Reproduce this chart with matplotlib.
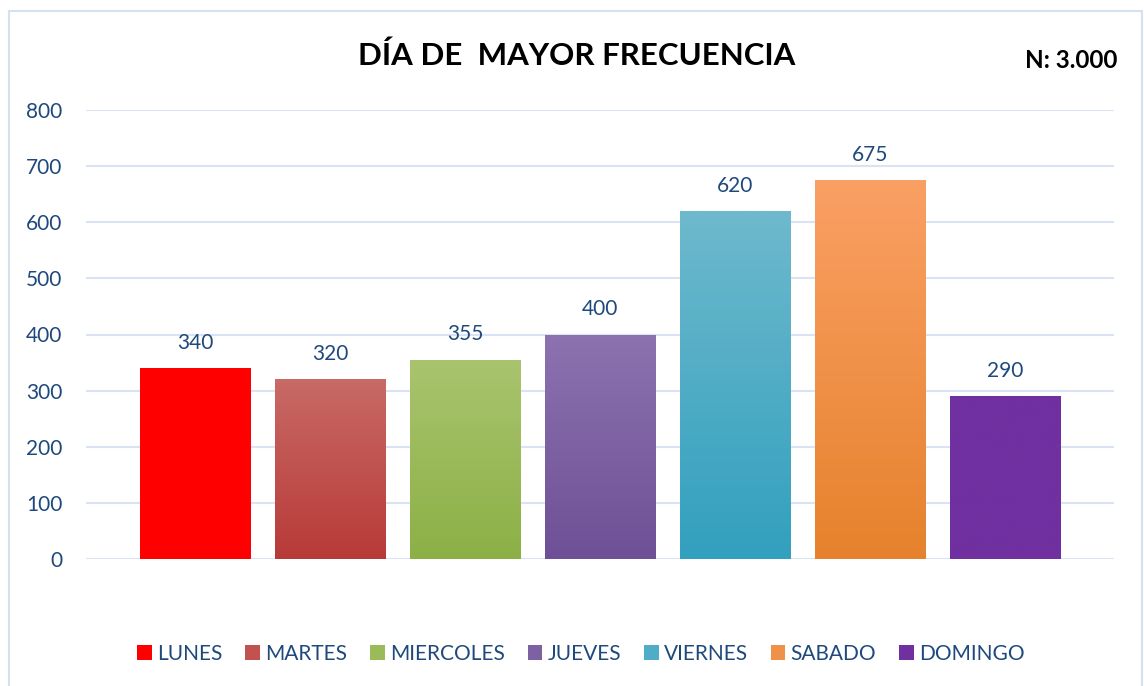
import matplotlib
matplotlib.use("Agg")
import matplotlib.pyplot as plt
import numpy as np
from matplotlib.patches import Rectangle, Patch
from matplotlib.colors import LinearSegmentedColormap

categories = ["LUNES", "MARTES", "MIERCOLES", "JUEVES", "VIERNES", "SABADO", "DOMINGO"]
values = [340, 320, 355, 400, 620, 675, 290]
top_colors = ["#FF0000", "#C86A66", "#A9C46E", "#8C73AF", "#6EB9CD", "#FAA064", "#7030A0"]
bottom_colors = ["#FF0000", "#B83A37", "#8CB046", "#6E5096", "#32A0BE", "#E6822D", "#7030A0"]
title = "DÍA DE  MAYOR FRECUENCIA"
n_label = "N: 3.000"
yticks = [0, 100, 200, 300, 400, 500, 600, 700, 800]

plt.rcParams['font.family'] = ['Lato', 'DejaVu Sans']
txt_color = "#1F497D"
grid_color = "#D9E3F3"

W, H = 1144, 686
fig = plt.figure(figsize=(W/100, H/100), dpi=100)
ax = fig.add_axes([86/W, 1-559/H, (1114-86)/W, (559-110)/H])

x = np.arange(len(categories))
width = 0.815
bars = ax.bar(x, values, width=width, color=top_colors, zorder=2)
for b, tc, bc in zip(bars, top_colors, bottom_colors):
    cmap = LinearSegmentedColormap.from_list("g", [bc, tc])
    x0, y0 = b.get_x(), b.get_y()
    w, h = b.get_width(), b.get_height()
    grad = np.linspace(0, 1, 256).reshape(-1, 1)
    im = ax.imshow(grad, cmap=cmap, origin="lower", aspect="auto",
                   extent=[x0, x0+w, y0, y0+h], zorder=3)
    im.set_clip_path(b)

for xi, v in zip(x, values):
    ax.annotate(f"{v}", (xi, v), xytext=(0, 11), textcoords="offset points",
                ha="center", va="bottom", fontsize=15, color=txt_color)

ax.set_xlim(-0.807, 6.807)
ax.set_ylim(0, 800)
ax.set_yticks(yticks)
ax.set_xticks([])
ax.yaxis.grid(True, color=grid_color, linewidth=1.5, zorder=0)
ax.set_axisbelow(True)
for s in ax.spines.values():
    s.set_visible(False)
ax.tick_params(axis="y", length=0, labelsize=15, labelcolor=txt_color, pad=17)

fig.text(577/W, 1-56/H, title, ha="center", va="center", fontsize=22.5,
         fontweight="bold", color="black")
fig.text(1117/W, 1-61/H, n_label, ha="right", va="center", fontsize=17.5,
         fontweight="bold", color="black")

handles = [Patch(facecolor=(np.array(matplotlib.colors.to_rgb(t)) + np.array(matplotlib.colors.to_rgb(b)))/2)
           for t, b in zip(top_colors, bottom_colors)]
leg = fig.legend(handles, categories, loc="center", bbox_to_anchor=(581/W, 1-654/H),
                 ncol=7, frameon=False, fontsize=15, handlelength=0.7, handleheight=0.7,
                 handletextpad=0.25, columnspacing=1.1)
for t in leg.get_texts():
    t.set_color(txt_color)

fig.add_artist(Rectangle((9/W, -0.01), (1142-9)/W, 1.01-11/H, transform=fig.transFigure,
                         fill=False, edgecolor="#D5E1F1", linewidth=1.5))

fig.savefig("out.png", dpi=100)
